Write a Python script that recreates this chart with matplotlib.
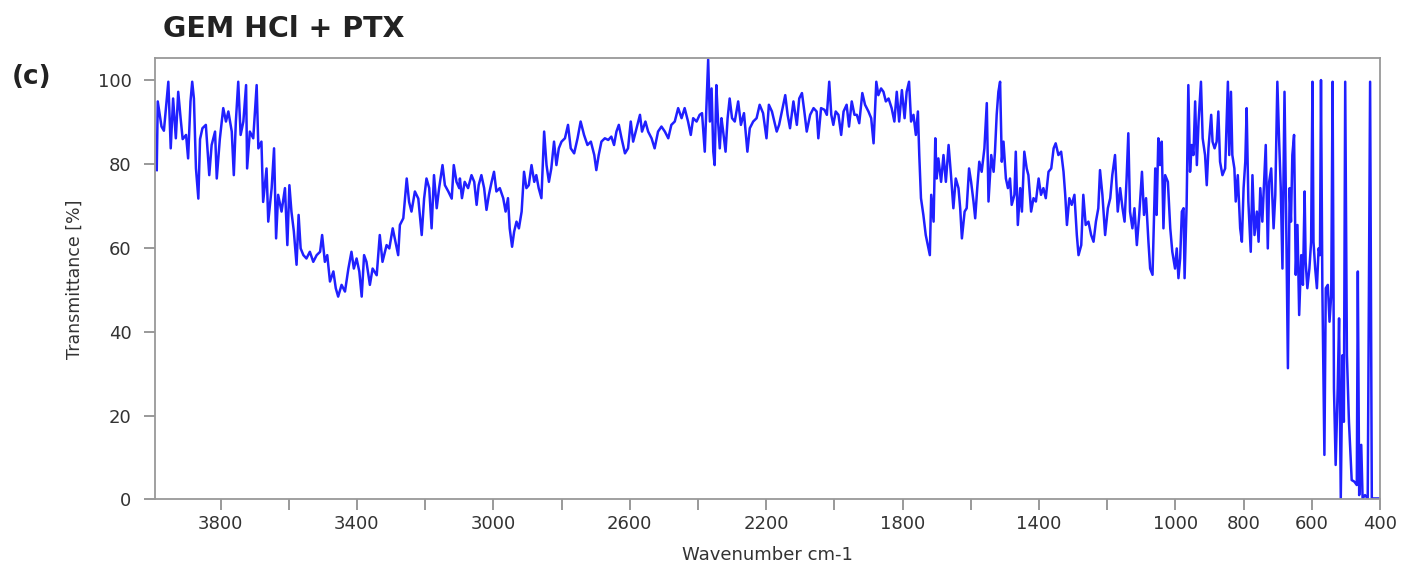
import matplotlib.pyplot as plt

# IR spectrum, high -> low wavenumber (cm-1) / transmittance (%)
wn_oh = [3987, 3984, 3973, 3966, 3953, 3946, 3939, 3931, 3924, 3917, 3911, 3901, 3895, 3888, 3883,
         3878, 3872, 3865, 3860, 3853, 3843, 3833, 3826, 3816, 3811, 3802, 3792, 3784, 3777, 3767,
         3761, 3755, 3748, 3741, 3733, 3725, 3722, 3714, 3704, 3694, 3689, 3680, 3675, 3665, 3660,
         3650, 3643, 3637, 3631, 3621, 3611, 3604, 3598, 3592, 3585, 3577, 3571, 3565, 3557, 3548,
         3538, 3528, 3518, 3508, 3502, 3494, 3487, 3479, 3469, 3462, 3455, 3445, 3435, 3425, 3416,
         3409, 3401, 3393, 3386, 3379, 3372, 3362, 3354, 3342, 3333, 3325, 3313, 3305, 3295, 3289,
         3279, 3274, 3264, 3254, 3247, 3240, 3230, 3220, 3210, 3203, 3196, 3188, 3181, 3174, 3166,
         3159, 3149, 3142, 3132, 3122, 3116, 3108, 3100]
tr_oh = [78.6, 95, 89, 88, 99.7, 83.8, 95.7, 86.2, 97.3, 91, 86, 87, 81.4, 95, 99.7,
         95.7, 79, 71.8, 86, 88.6, 89.4, 77.4, 84.6, 87.8, 76.6, 86, 93.4, 90.2, 92.6, 87.8,
         77.4, 90.2, 99.7, 87, 90.2, 98.9, 79, 87.8, 86.2, 98.9, 83.8, 85.4, 71, 79, 66.3,
         74.3, 83.8, 62.3, 72.7, 68.7, 74.3, 60.7, 75, 68.7, 64, 56, 67.9, 59.9, 58.3, 57.5,
         59.1, 56.7, 58.3, 59.1, 63.1, 56.7, 58.3, 52, 54.4, 50.4, 48.4, 51.2, 49.6, 55.1, 59.1,
         55.1, 57.5, 54.4, 48.4, 58.3, 56.7, 51.2, 55.1, 53.5, 63.1, 56.7, 60.7, 59.9, 64.7, 62.3,
         58.3, 65.5, 67.1, 76.6, 71, 68.7, 73.5, 71.8, 63.1, 71.8, 76.6, 74.3, 64.7, 77.4, 69.5,
         74.3, 79.8, 75, 73.5, 71.8, 79.8, 75.8, 74.3]

wn_ch = [3098, 3092, 3084, 3074, 3064, 3056, 3049, 3043, 3035, 3027, 3020, 3013, 3005, 2998, 2991,
         2981, 2971, 2964, 2957, 2952, 2945, 2939, 2932, 2925, 2917, 2910, 2903, 2896, 2888, 2880,
         2874, 2867, 2859, 2851, 2844, 2837, 2830, 2822, 2815, 2808, 2800, 2790, 2781, 2773, 2763,
         2753, 2744, 2734, 2724, 2714, 2704, 2698, 2691, 2683, 2673, 2663, 2654, 2646, 2639, 2632,
         2624, 2614, 2605, 2597, 2590, 2580, 2570, 2564, 2554, 2546, 2536, 2527, 2517, 2507, 2497,
         2487, 2478, 2468, 2458, 2448, 2439, 2429, 2421, 2414, 2404, 2395, 2388, 2380, 2375, 2370,
         2365, 2360, 2355, 2351, 2346, 2341, 2336, 2331, 2326, 2319, 2313, 2307, 2300, 2292, 2282,
         2274, 2265, 2255, 2248, 2238, 2228, 2219, 2209, 2199, 2192]
tr_ch = [76.6, 71.9, 75.8, 74.3, 77.4, 75.8, 70.3, 75, 77.4, 74.3, 69.1, 72.7, 75.8, 78.2, 73.5,
         74.3, 71.9, 68.7, 71.9, 64.7, 60.3, 63.9, 66.3, 64.7, 68.7, 78.2, 74.3, 75, 79.8, 75.8,
         77.4, 74.3, 71.9, 87.8, 79.8, 75.8, 79, 85.4, 79.8, 83.8, 85.4, 86.2, 89.4, 83.8, 82.6,
         86.2, 90.2, 87, 84.6, 85.4, 82.2, 78.6, 82.2, 85.4, 86.2, 85.8, 86.6, 84.6, 87.8, 89.4,
         86.2, 82.6, 83.8, 90.2, 85.4, 88.6, 91.8, 87.8, 90.2, 87.8, 86.2, 83.8, 87.8, 89, 87.8,
         86.2, 89.4, 90.2, 93.4, 91, 93.4, 90.2, 87, 91, 90.2, 91.8, 92.2, 83, 94.2, 105,
         90.2, 98.1, 83, 79.8, 98.9, 90.2, 83.8, 91, 87.8, 83, 91, 95.7, 91, 90.2, 95,
         89.4, 92.2, 83, 88.6, 90.2, 91, 94.2, 92.2, 86.2, 94.2]

wn_co = [2183, 2176, 2169, 2162, 2154, 2144, 2137, 2130, 2120, 2110, 2103, 2095, 2088, 2081, 2071,
         2061, 2052, 2047, 2039, 2029, 2022, 2015, 2009, 2003, 1996, 1988, 1980, 1973, 1964, 1957,
         1949, 1941, 1934, 1927, 1918, 1910, 1900, 1892, 1885, 1877, 1871, 1863, 1856, 1849, 1841,
         1832, 1824, 1817, 1810, 1802, 1794, 1788, 1781, 1775, 1768, 1761, 1755, 1751, 1746, 1739,
         1732, 1724, 1720, 1716, 1709, 1704, 1700, 1695, 1687, 1680, 1673, 1665, 1658, 1651, 1644,
         1636, 1631, 1626, 1618, 1612, 1605, 1599, 1592, 1587, 1581, 1575, 1568, 1560, 1553, 1548,
         1540, 1533, 1529, 1524, 1519, 1514, 1509, 1504, 1497, 1491, 1485, 1480, 1472, 1468, 1462,
         1455, 1450, 1443, 1436, 1431, 1423, 1416, 1409, 1401, 1394, 1387, 1380, 1372, 1364, 1357,
         1351, 1343, 1335, 1328, 1323, 1318, 1311, 1304, 1296, 1289, 1284]
tr_co = [92.6, 90.2, 87.8, 89.4, 92.6, 96.5, 91.8, 88.6, 95, 89.4, 95.7, 97, 92.6, 87.8, 91.8,
         93.4, 92.6, 86.2, 93.4, 93, 91.8, 99.7, 91.8, 89.4, 92.6, 91.8, 87, 92.6, 94.2, 89,
         95, 91.8, 91.8, 89.8, 97, 94.2, 92.6, 91, 85, 99.7, 96.5, 98.1, 97.3, 95, 95.7,
         93.4, 90.2, 97.3, 90.2, 97.7, 91, 97.3, 99.7, 90.2, 91.8, 87, 92.6, 82.2, 71.9, 67.9,
         63.1, 59.9, 58.3, 72.7, 66.3, 86.2, 76.6, 81.4, 75.8, 82.2, 75.8, 84.6, 77.4, 69.5, 76.6,
         74.3, 69.5, 62.3, 68.7, 69.5, 79, 75.8, 71.1, 67.1, 74.3, 80.6, 78.2, 83.8, 94.6, 71.1,
         82.2, 78.2, 83, 91.8, 97.3, 99.7, 80.6, 85.4, 76.6, 74.3, 76.6, 70.3, 72.7, 83, 65.5,
         74.3, 68.7, 83, 79, 77.4, 68.7, 71.9, 71.1, 76.6, 72.7, 74.3, 71.9, 78.2, 79, 83.8,
         85, 82.2, 83, 78.2, 72.7, 65.5, 71.9, 70.3, 72.7, 63.1, 58.3]

wn_fp = [1276, 1270, 1263, 1255, 1247, 1240, 1233, 1226, 1221, 1214, 1206, 1198, 1191, 1185, 1177,
         1169, 1162, 1155, 1149, 1143, 1138, 1133, 1126, 1120, 1113, 1106, 1098, 1092, 1086, 1079,
         1074, 1067, 1059, 1055, 1050, 1045, 1040, 1035, 1030, 1022, 1015, 1009, 1001, 996, 991,
         986, 981, 976, 973, 967, 962, 957, 952, 947, 942, 937, 932, 925, 920, 913,
         908, 903, 895, 891, 885, 879, 874, 869, 862, 854, 846, 842, 837, 833, 827,
         823, 817, 810, 805, 800, 795, 791, 786, 779, 774, 768, 761, 756, 751, 745,
         739, 735, 729, 725, 719, 712, 707, 701, 696, 691, 686, 680, 675, 670, 665,
         661, 657, 652, 647, 642, 637, 631, 626, 621, 618, 613, 607, 602, 598, 595,
         590, 585, 580, 576, 573, 569, 563, 559, 553, 548, 543, 539, 535, 530, 524,
         520, 515, 510, 506, 502, 497, 491, 483, 475, 468, 465, 461, 455, 451, 444,
         436, 429, 424, 414, 400]
tr_fp = [60.7, 72.7, 65.5, 66.3, 63.1, 61.5, 66.3, 69.5, 78.6, 72.7, 63.1, 69.5, 71.9, 77.4, 82.2,
         68.7, 74.3, 69.5, 66.3, 76.6, 87.4, 68.7, 64.7, 69.5, 60.7, 67.9, 78.2, 67.9, 71.9, 61.5,
         55.1, 53.6, 79, 67.9, 86.2, 79.8, 85.4, 64.7, 77.4, 75.8, 64.7, 59.1, 55.1, 59.9, 52.8,
         57.5, 68.7, 69.5, 52.8, 70.3, 98.9, 78.2, 84.6, 82.2, 95, 79.8, 90.2, 99.7, 86.2, 82.2,
         75, 83.8, 91.8, 85.4, 83.8, 85.4, 92.6, 80.6, 77.4, 79, 99.7, 82.2, 97.3, 82.2, 79,
         71.1, 77.4, 64.7, 61.5, 74.3, 80.6, 93.4, 71.1, 59.1, 77.4, 63.1, 68.7, 61.5, 74.3, 66.3,
         77.4, 84.6, 59.9, 75.8, 79, 64.7, 72.7, 99.7, 86.2, 74.3, 55.1, 97.3, 66.3, 31.3, 74.3,
         66.3, 82.2, 87, 53.6, 65.5, 44, 58.3, 51.2, 73.5, 56.7, 50.4, 55.1, 61.5, 99.7, 61.5,
         55.1, 50.4, 59.9, 58.3, 100.1, 50.4, 10.6, 50.4, 51.2, 42.4, 48.8, 99.7, 26.5, 8.2, 26.5,
         43.2, 0.2, 34.4, 18.5, 99.7, 34.4, 18.5, 4.6, 4.2, 3.4, 54.4, 1, 13, 0.2, 1,
         0.2, 99.7, 0.2, 0.2, 0.2]

wavenumber = wn_oh + wn_ch + wn_co + wn_fp
transmittance = tr_oh + tr_ch + tr_co + tr_fp

xticks = list(range(3800, 399, -200))
xtick_labels = ['3800', '', '3400', '', '3000', '', '2600', '', '2200', '', '1800', '',
                '1400', '', '1000', '800', '600', '400']
yticks = [0, 20, 40, 60, 80, 100]

fig = plt.figure(figsize=(14.03, 5.67), dpi=100)
ax = fig.add_axes([0.1105, 0.1194, 0.8731, 0.7778])
ax.plot(wavenumber, transmittance, color='#2020ff', lw=1.8)
ax.set_xlim(3992, 400)
ax.set_ylim(0, 105.3)

ax.set_xticks(xticks)
ax.set_xticklabels(xtick_labels)
ax.set_yticks(yticks)
ax.tick_params(direction='out', length=8, width=1.2, color='#888888',
               labelsize=13, labelcolor='#333333')
ax.tick_params(axis='y', pad=9)
for s in ax.spines.values():
    s.set_color('#999999')
    s.set_linewidth(1.3)

ax.set_xlabel('Wavenumber cm-1', fontsize=13, color='#333333')
ax.set_ylabel('Transmittance [%]', fontsize=12.5, color='#333333')
ax.xaxis.set_label_coords(0.5, -0.105)
ax.yaxis.set_label_coords(-0.058, 0.5)

fig.text(163 / 1403, 1 - 37 / 567, 'GEM HCl + PTX', fontsize=20.5, fontweight='bold',
         color='#222222', ha='left', va='baseline')
fig.text(12 / 1403, 1 - 84 / 567, '(c)', fontsize=19, fontweight='bold',
         color='#222222', ha='left', va='baseline')

fig.savefig('out.png', dpi=100)
